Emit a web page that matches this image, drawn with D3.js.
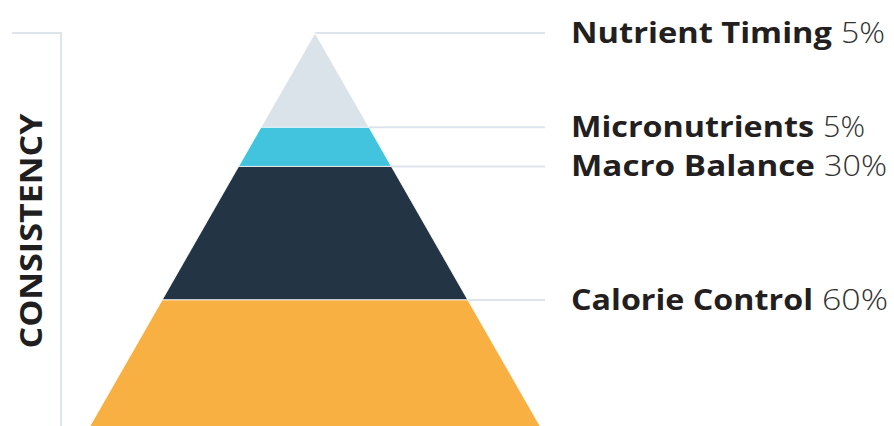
<!DOCTYPE html>
<html>
<head>
<meta charset="utf-8">
<script src="https://cdn.jsdelivr.net/npm/d3@7/dist/d3.min.js"></script>
<style>
  html, body { margin: 0; padding: 0; background: #ffffff; }
  svg { display: block; }
</style>
</head>
<body>
<svg id="chart" width="894" height="426"></svg>
<script>
// ---- data ----
const categories = ["Nutrient Timing", "Micronutrients", "Macro Balance", "Calorie Control"];
const values = [5, 5, 30, 60];
const valueLabels = ["5%", "5%", "30%", "60%"];
const colors = ["#dae2ea", "#42c3de", "#233545", "#f8b042"];
const sideLabel = "CONSISTENCY";

// ---- layout ----
const W = 894, H = 426;
const svg = d3.select("#chart");
const apexX = 315, apexY = 33, pyrHeight = 422, halfBase = 241.6;
const lineEnd = 545, labelX = 571;
const lineColor = "#dde4ec";

// cumulative share -> depth (area-proportional pyramid)
const cum = [0];
values.forEach((v, i) => cum.push(cum[i] + v));
const total = cum[cum.length - 1];
const y = d3.scaleSqrt().domain([0, total]).range([apexY, apexY + pyrHeight]);
const halfW = d3.scaleLinear().domain([apexY, apexY + pyrHeight]).range([0, halfBase]);

const layers = categories.map((c, i) => ({
  name: c, value: values[i], label: valueLabels[i], color: colors[i],
  y0: y(cum[i]), y1: y(cum[i + 1])
}));

// bracket on the left
svg.append("path")
  .attr("d", d3.line()([[12, apexY], [61, apexY], [61, H]]))
  .attr("fill", "none").attr("stroke", lineColor).attr("stroke-width", 2);

svg.append("text")
  .attr("transform", `translate(42, 231) rotate(-90)`)
  .attr("text-anchor", "middle")
  .attr("font-family", "'Open Sans', sans-serif")
  .attr("font-weight", 700)
  .attr("font-size", 30)
  .attr("fill", "#1f1f1f")
  .attr("textLength", 235)
  .attr("lengthAdjust", "spacingAndGlyphs")
  .text(sideLabel);

// leader lines
svg.selectAll("line.leader").data(layers).join("line")
  .attr("class", "leader")
  .attr("x1", d => apexX + halfW(d.y0))
  .attr("x2", lineEnd)
  .attr("y1", d => d.y0).attr("y2", d => d.y0)
  .attr("stroke", lineColor).attr("stroke-width", 2);

// pyramid layers
svg.selectAll("path.layer").data(layers).join("path")
  .attr("class", "layer")
  .attr("d", d => d3.line()([
    [apexX - halfW(d.y0), d.y0], [apexX + halfW(d.y0), d.y0],
    [apexX + halfW(d.y1), d.y1], [apexX - halfW(d.y1), d.y1]
  ]) + "Z")
  .attr("fill", d => d.color)
  .attr("stroke", "#ffffff").attr("stroke-width", 0.8);

// labels
const nameWidths = [261, 243, 244, 242];
const pctWidths = [44, 42, 63, 66];
const lab = svg.selectAll("g.lab").data(layers).join("g")
  .attr("class", "lab")
  .attr("transform", d => `translate(${labelX}, ${d.y0 + 10})`);
lab.append("text")
  .attr("font-family", "'Open Sans', sans-serif")
  .attr("font-weight", 700)
  .attr("font-size", 29)
  .attr("fill", "#231f20")
  .attr("textLength", (d, i) => nameWidths[i])
  .attr("lengthAdjust", "spacingAndGlyphs")
  .text(d => d.name);
lab.append("text")
  .attr("x", (d, i) => nameWidths[i] + 9)
  .attr("font-family", "'Open Sans', sans-serif")
  .attr("font-weight", 300)
  .attr("font-size", 29)
  .attr("fill", "#333333")
  .attr("textLength", (d, i) => pctWidths[i])
  .attr("lengthAdjust", "spacingAndGlyphs")
  .text(d => d.label);
</script>
</body>
</html>
